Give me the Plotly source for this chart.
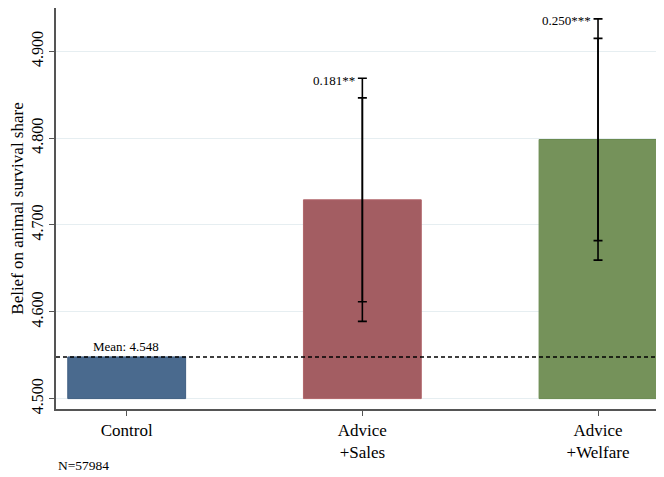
import plotly.graph_objects as go

categories = ["Control", "Advice<br>+Sales", "Advice<br>+Welfare"]
means = [4.548, 4.729, 4.7985]
ci95 = [0.0, 0.140, 0.139]
ci90 = [0.0, 0.1175, 0.1165]
effect_labels = ["", "0.181**", "0.250***"]
bar_colors = ["#4a6a8e", "#a35d62", "#75925a"]
line_colors = ["#3f5f82", "#b0656a", "#6a8a50"]
control_mean = 4.548
base = 4.5
y_ticks = [4.5, 4.6, 4.7, 4.8, 4.9]
y_tick_text = ["4.500", "4.600", "4.700", "4.800", "4.900"]
n_text = "N=57984"

FONT = "Liberation Serif, DejaVu Serif, serif"
xs = list(range(len(categories)))

fig = go.Figure()
fig.add_trace(go.Bar(
    x=xs, y=[m - base for m in means], base=base, width=0.5,
    marker=dict(color=bar_colors, line=dict(color=line_colors, width=1)),
    showlegend=False, hoverinfo="skip"))

ex = [x for x, c in zip(xs, ci95) if c > 0]
ey = [m for m, c in zip(means, ci95) if c > 0]
fig.add_trace(go.Scatter(
    x=ex, y=ey, mode="markers", marker=dict(size=1, opacity=0),
    error_y=dict(type="data", array=[c for c in ci95 if c > 0], color="black",
                 thickness=1.6, width=4.5),
    showlegend=False, hoverinfo="skip"))
fig.add_trace(go.Scatter(
    x=ex, y=ey, mode="markers", marker=dict(size=1, opacity=0),
    error_y=dict(type="data", array=[c for c in ci90 if c > 0], color="black",
                 thickness=1.6, width=4.5),
    showlegend=False, hoverinfo="skip"))

fig.add_shape(type="line", xref="paper", x0=0, x1=1, yref="y",
              y0=control_mean, y1=control_mean,
              line=dict(color="black", width=1.5, dash="4px,3px"), layer="above")

annotations = [dict(x=0, y=control_mean, xref="x", yref="y", text=f"Mean: {control_mean:.3f}",
                    showarrow=False, yanchor="bottom", yshift=1, xshift=-1,
                    font=dict(family=FONT, size=13, color="black"))]
for x, m, c, t in zip(xs, means, ci95, effect_labels):
    if t:
        annotations.append(dict(x=x, y=m + c, xref="x", yref="y", text=t, showarrow=False,
                                xanchor="right", yanchor="middle", xshift=-5, yshift=-2,
                                font=dict(family=FONT, size=13, color="black")))
annotations.append(dict(x=0.0, y=-0.142, xref="paper", yref="paper", text=n_text,
                        showarrow=False, xanchor="left", yanchor="middle",
                        font=dict(family=FONT, size=13.5, color="black")))

# page body adds an 8px offset, so the figure is sized to the remaining area
fig.update_layout(
    width=656, height=469,
    margin=dict(l=48, r=0, t=0, b=68),
    paper_bgcolor="white", plot_bgcolor="white",
    font=dict(family=FONT, color="black"),
    annotations=annotations,
    xaxis=dict(tickmode="array", tickvals=xs, ticktext=categories,
               range=[-0.30, 2.28], showgrid=False, zeroline=False,
               showline=True, linecolor="#555555", linewidth=1.5,
               ticks="outside", ticklen=5, tickcolor="#555555",
               tickfont=dict(family=FONT, size=17, color="black")),
    yaxis=dict(tickmode="array", tickvals=y_ticks, ticktext=y_tick_text,
               range=[4.488, 4.950], showgrid=True, gridcolor="#e6eef1", gridwidth=1.2,
               zeroline=False, showline=True, linecolor="#555555", linewidth=1.5,
               ticks="outside", ticklen=5, tickcolor="#555555", tickangle=-90,
               tickfont=dict(family=FONT, size=16, color="black"),
               title=dict(text="Belief on animal survival share",
                          font=dict(family=FONT, size=17, color="black"), standoff=4)),
)

fig.write_html("out.html")
